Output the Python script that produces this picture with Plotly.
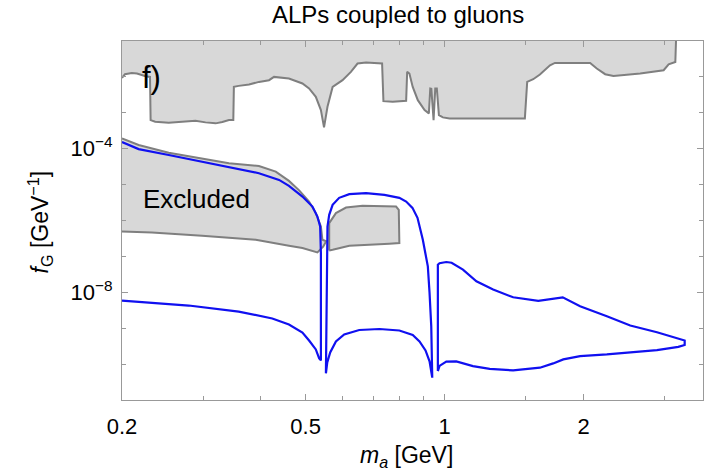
import math
import plotly.graph_objects as go

# ---- Excluded band reaching the top of the plot (mass in GeV, coupling in GeV^-1)
ceiling_m = [0.2, 0.203, 0.210, 0.2155, 0.225, 0.230, 0.2307, 0.236, 0.2525, 0.2745,
             0.2885, 0.3034, 0.319, 0.330, 0.341, 0.3485, 0.3495, 0.358, 0.377, 0.396,
             0.4165, 0.427, 0.445, 0.460, 0.492, 0.5086, 0.526, 0.5395, 0.548, 0.5575,
             0.572, 0.601, 0.6266, 0.6477, 0.6758, 0.7321, 0.737, 0.772, 0.8255, 0.8297,
             0.839, 0.853, 0.875, 0.905, 0.9245, 0.931, 0.936, 0.9465, 0.9545, 0.962,
             0.972, 0.9915, 1.0254, 1.060, 1.2525, 1.4925, 1.510, 1.556, 1.609, 1.692,
             1.734, 2.067, 2.137, 2.228, 2.322, 2.654, 2.983, 3.058, 3.162, 3.178]
ceiling_f = [9.33e-3, 1.189e-2, 1.291e-2, 1.242e-2, 1.047e-2, 1.0e-2, 6.27e-4, 5.62e-4, 5.27e-4, 5.77e-4,
             6.0e-4, 5.41e-4, 5.08e-4, 5.52e-4, 6.27e-4, 6.31e-4, 5.27e-3, 5.62e-3, 6.15e-3, 7.26e-3,
             8.09e-3, 1.0e-2, 9.62e-3, 9.04e-3, 6.56e-3, 4.76e-3, 2.78e-3, 1.19e-3, 3.93e-4, 1.47e-3,
             5.27e-3, 8.09e-3, 1.377e-2, 2.355e-2, 2.512e-2, 2.355e-2, 2.11e-3, 2.02e-3, 2.15e-3, 1.377e-2,
             1.242e-2, 5.27e-3, 2.25e-3, 1.19e-3, 9.62e-4, 4.76e-3, 4.68e-3, 6.27e-4, 4.76e-3, 4.76e-3,
             8.63e-4, 7.45e-4, 6.98e-4, 6.98e-4, 6.68e-4, 6.98e-4, 7.26e-3, 8.63e-3, 1.167e-2, 2.11e-2,
             2.45e-2, 2.45e-2, 1.71e-2, 1.189e-2, 1.067e-2, 1.242e-2, 1.535e-2, 2.25e-2, 2.61e-2, 0.2]

# ---- "Excluded" region at low mass: upper edge then lower edge
excl_m = [0.2, 0.2173, 0.2525, 0.2982, 0.341, 0.396, 0.4307, 0.460, 0.4841, 0.5086,
          0.526, 0.5395, 0.5436, 0.554, 0.5456,
          0.5302, 0.492, 0.460, 0.3898, 0.2982, 0.2322, 0.2]
excl_f = [1.919e-4, 1.268e-4, 7.74e-5, 5.41e-5, 3.93e-5, 3.30e-5, 2.30e-5, 1.268e-5, 6.90e-6, 3.37e-6,
          1.607e-6, 6.81e-7, 2.91e-7, 2.64e-7, 1.858e-7,
          1.291e-7, 1.71e-7, 1.98e-7, 2.91e-7, 3.76e-7, 4.65e-7, 4.94e-7]

# ---- small excluded island between the two dips
island_m = [0.5623, 0.5623, 0.5815, 0.6115, 0.664, 0.785, 0.7957, 0.798, 0.759, 0.6216, 0.572, 0.5623]
island_f = [1.469e-7, 8.47e-7, 1.607e-6, 2.30e-6, 2.56e-6, 2.45e-6, 1.98e-6, 2.355e-7, 2.25e-7, 1.98e-7,
            1.535e-7, 1.469e-7]

# ---- projected sensitivity contour (three pieces)
proj_a_m = [0.2, 0.2173, 0.2525, 0.2982, 0.341, 0.396, 0.4379, 0.460, 0.492, 0.5172,
            0.5302, 0.5375, 0.5395, 0.5395,
            0.5349, 0.526, 0.5086, 0.492, 0.460, 0.4233, 0.358, 0.279, 0.2]
proj_a_f = [1.535e-4, 9.75e-5, 6.68e-5, 4.36e-5, 3.162e-5, 2.075e-5, 1.352e-5, 9.20e-6, 4.65e-6, 2.45e-6,
            1.291e-6, 6.81e-7, 1.236e-7, 1.268e-10,
            1.439e-10, 2.56e-10, 4.55e-10, 7.60e-10, 1.268e-9, 1.858e-9, 2.91e-9, 4.28e-9, 5.87e-9]

proj_b_m = [0.5532, 0.5549, 0.5575, 0.5623, 0.572, 0.591, 0.6216, 0.6758, 0.7408, 0.798,
            0.8255, 0.8519, 0.8736, 0.8971, 0.9198, 0.9277, 0.9356, 0.9403,
            0.9356, 0.9277, 0.9093, 0.8824, 0.853, 0.798, 0.7225, 0.6533, 0.606, 0.5815,
            0.5651, 0.5569, 0.5532]
proj_b_f = [5.52e-11, 8.41e-9, 6.81e-7, 1.439e-6, 2.73e-6, 4.28e-6, 5.41e-6, 5.77e-6, 5.18e-6, 4.28e-6,
            3.37e-6, 2.25e-6, 1.189e-6, 2.91e-7, 5.27e-8, 9.62e-9, 1.138e-9, 4.19e-11,
            7.13e-11, 1.189e-10, 2.40e-10, 4.28e-10, 6.47e-10, 8.63e-10, 9.51e-10, 8.91e-10, 6.68e-10, 4.28e-10,
            2.11e-10, 1.114e-10, 5.52e-11]

proj_c_m = [0.967, 0.967, 0.975, 1.0085, 1.0356, 1.096, 1.172, 1.274, 1.408, 1.596,
            1.803, 1.966, 2.247, 2.525, 2.885, 3.189, 3.313, 3.313, 3.209, 2.885,
            2.525, 2.247, 1.966, 1.808, 1.719, 1.609, 1.408, 1.2525, 1.152, 1.060,
            1.0085, 0.975, 0.967]
proj_c_f = [6.40e-11, 5.87e-8, 6.47e-8, 6.98e-8, 6.68e-8, 4.28e-8, 2.02e-8, 1.189e-8, 7.26e-9, 5.81e-9,
            7.26e-9, 4.08e-9, 2.15e-9, 1.189e-9, 7.74e-10, 5.08e-10, 4.55e-10, 3.41e-10, 3.01e-10, 2.45e-10,
            2.075e-10, 1.858e-10, 1.667e-10, 1.352e-10, 1.045e-10, 7.94e-11, 6.68e-11, 7.36e-11, 8.79e-11, 1.189e-10,
            1.167e-10, 8.91e-11, 6.40e-11]

# ---- axis ticks
x_major = [0.2, 0.5, 1, 2]
x_major_text = ["0.2", "0.5", "1", "2"]
x_minor = [0.3, 0.4, 0.6, 0.7, 0.8, 0.9, 1.5, 3]
y_major = [1e-4, 1e-8]
y_major_text = ["10<sup>\u22124</sup>", "10<sup>\u22128</sup>"]
y_minor = [1e-10, 1e-9, 1e-7, 1e-6, 1e-5, 1e-3, 1e-2]

FILL = "#d8d8d8"
EDGE = "#7f7f7f"
BLUE = "#1010f0"
FRAME = "#999999"
FONT = "Liberation Sans, Arial, Helvetica, sans-serif"

X_LO, X_HI = 0.2, 3.63
Y_TOP_OUT = 1.0  # closes the ceiling polygon beyond the visible range

fig = go.Figure()

# ceiling region: fill (closed via points above the frame) and its edge line
fig.add_trace(go.Scatter(
    x=ceiling_m + [ceiling_m[-1], ceiling_m[0]],
    y=ceiling_f + [Y_TOP_OUT, Y_TOP_OUT],
    fill="toself", fillcolor=FILL, mode="lines", line=dict(width=0),
    hoverinfo="skip", showlegend=False))
fig.add_trace(go.Scatter(x=ceiling_m, y=ceiling_f, mode="lines",
                         line=dict(color=EDGE, width=2), showlegend=False))

# low-mass excluded region
fig.add_trace(go.Scatter(x=excl_m, y=excl_f, fill="toself", fillcolor=FILL, mode="lines",
                         line=dict(width=0), hoverinfo="skip", showlegend=False))
fig.add_trace(go.Scatter(x=excl_m, y=excl_f, mode="lines",
                         line=dict(color=EDGE, width=2), showlegend=False))

# island
fig.add_trace(go.Scatter(x=island_m, y=island_f, fill="toself", fillcolor=FILL, mode="lines",
                         line=dict(color=EDGE, width=2), showlegend=False))

# sensitivity contour
for xs, ys in [(proj_a_m, proj_a_f), (proj_b_m, proj_b_f), (proj_c_m, proj_c_f)]:
    fig.add_trace(go.Scatter(x=xs, y=ys, mode="lines",
                             line=dict(color=BLUE, width=2.2), showlegend=False))

axis_common = dict(
    type="log", showgrid=False, zeroline=False,
    showline=True, linecolor=FRAME, linewidth=1, mirror="ticks",
    ticks="inside", ticklen=6, tickcolor=FRAME, tickwidth=1,
    tickfont=dict(family=FONT, size=22, color="black"),
)

fig.update_xaxes(
    **axis_common,
    range=[math.log10(X_LO), math.log10(X_HI)],
    tickmode="array", tickvals=x_major, ticktext=x_major_text,
    ticklabelstandoff=7,
    minor=dict(tickmode="array", tickvals=x_minor, ticks="inside", ticklen=4,
               tickcolor=FRAME, tickwidth=1),
)
fig.update_yaxes(
    **axis_common,
    range=[-11, -1],
    tickmode="array", tickvals=y_major, ticktext=y_major_text,
    ticklabelstandoff=4,
    minor=dict(tickmode="array", tickvals=y_minor, ticks="inside", ticklen=4,
               tickcolor=FRAME, tickwidth=1),
)

annotations = [
    dict(text="ALPs coupled to gluons", x=0.475, y=1.075, xref="paper", yref="paper",
         showarrow=False, font=dict(family=FONT, size=24, color="black"),
         xanchor="center", yanchor="middle"),
    dict(text="f)", x=0.0505, y=0.897, xref="paper", yref="paper",
         showarrow=False, font=dict(family=FONT, size=31, color="black"),
         xanchor="center", yanchor="middle"),
    dict(text="Excluded", x=0.129, y=0.56, xref="paper", yref="paper",
         showarrow=False, font=dict(family=FONT, size=26, color="black"),
         xanchor="center", yanchor="middle"),
    dict(text="<i>m</i><sub><i>a</i></sub> [GeV]", x=0.49, y=-0.157, xref="paper", yref="paper",
         showarrow=False, font=dict(family=FONT, size=23, color="black"),
         xanchor="center", yanchor="middle"),
    dict(text="<i>f</i><sub>G</sub> [GeV<sup>\u22121</sup>]", x=-0.142, y=0.496,
         xref="paper", yref="paper", textangle=-90,
         showarrow=False, font=dict(family=FONT, size=23, color="black"),
         xanchor="center", yanchor="middle"),
]

fig.update_layout(
    width=718, height=474,
    margin=dict(l=122, r=15, t=41, b=74),
    paper_bgcolor="white", plot_bgcolor="white",
    annotations=annotations,
    font=dict(family=FONT),
)

fig.write_html("out.html")
